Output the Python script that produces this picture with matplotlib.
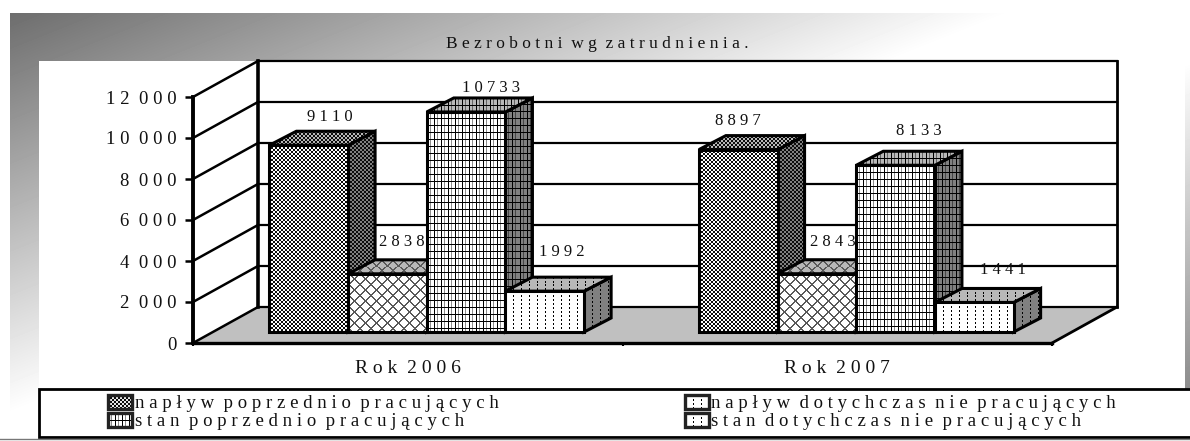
#Unemployed by previous employment - fake 3D bars
import matplotlib
matplotlib.use('Agg')
import matplotlib.pyplot as plt
from matplotlib.patches import Polygon, Rectangle
import numpy as np

plt.rcParams['font.family'] = ['Liberation Serif', 'DejaVu Sans']

#Data
title = 'Bezrobotni wg zatrudnienia.'
years = ['Rok 2006', 'Rok 2007']
naplyw_poprz = [9110, 8897]
naplyw_dotych = [2838, 2843]
stan_poprz = [10733, 8133]
stan_dotych = [1992, 1441]
series_names = ['napływ poprzednio pracujących', 'napływ dotychczas nie pracujących',
                'stan poprzednio pracujących', 'stan dotychczas nie pracujących']
value_labels = [['9110', '8897'], ['2838', '2843'], ['10733', '8133'], ['1992', '1441']]
y_ticks = [0, 2000, 4000, 6000, 8000, 10000, 12000]
y_tick_labels = ['0', '2 000', '4 000', '6 000', '8 000', '10 000', '12 000']

#Layout in pixels
W, H = 1190, 441
AX_L, AX_R, AX_T, AX_B = 193, 1052, 97, 343
WALL_DX, WALL_DY = 65, 36
BAR_DX, BAR_DY = 27, 14
BASE_DX, BASE_DY = 19, 11
BAR_W = 0.1832
#label offset from the bar centre and bar top (pixels)
label_dx = [[21, 0], [14, 16], [25, 23], [17, 29]]
label_dy = [[28, 29], [32, 32], [24, 34], [39, 32]]


def spaced(s):
    #letters are spread apart in the picture
    return '  '.join(' '.join(w) for w in s.split(' '))


def pattern(kind, w, h, base):
    yy, xx = np.indices((h, w))
    img = np.full((h, w), base, dtype=float)
    if kind == 'check':
        img[(xx // 2 + yy // 2) % 2 == 0] = 0.05
    elif kind == 'lattice':
        img[(xx + yy) % 11 < 2] = 0.35
        img[(xx - yy) % 11 < 2] = 0.35
    elif kind == 'grid':
        img[xx % 7 == 3] = base * 0.55
        img[xx % 7 == 0] = 0
        img[yy % 7 == 0] = 0
    elif kind == 'dots':
        img[(xx % 8 == 0) & (yy % 4 < 2)] = 0
    return img


fig = plt.figure(figsize=(W / 100, H / 100), dpi=100, facecolor='white')

#Background gradient, white panels, legend box
bg = fig.add_axes([0, 0, 1, 1])
bg.set_xlim(0, W)
bg.set_ylim(H, 0)
bg.axis('off')
gy, gx = np.mgrid[13:430, 10:W]
u = (gx - 10) / 1000 + (gy - 13) / 400
shade = np.where(u < 1, 0.43 + 0.57 * u, 1 - np.clip(u - 1.3, 0, None) * 0.55)
bg.imshow(shade, extent=(10, W, 430, 13), cmap='gray', vmin=0, vmax=1, aspect='auto', interpolation='bilinear')
bg.add_patch(Rectangle((39, 61), 1146, 330, fc='white', ec='none'))
bg.add_patch(Rectangle((39, 389), W, 48, fc='white', ec='black', lw=2))
bg.plot([0, W], [439, 439], color='#777777', lw=1)
bg.text(597, 44, spaced(title), fontsize=12.5, ha='center', va='center', color='#111111')
bg.set_xlim(0, W)
bg.set_ylim(H, 0)

#Chart axes
ax = fig.add_axes([AX_L / W, 1 - AX_B / H, (AX_R - AX_L) / W, (AX_B - AX_T) / H])
ax.patch.set_alpha(0)
ax.set_xlim(0, 2)
ax.set_ylim(0, 12000)
PX_X = (AX_R - AX_L) / 2
PX_Y = (AX_B - AX_T) / 12000


def pt(x, v, dx=0, dy=0):
    #data point moved dx pixels right and dy pixels up
    return (x + dx / PX_X, v + dy / PX_Y)


def face(verts, kind, base, z):
    poly = Polygon(verts, closed=True, fc='none', ec='black', lw=2.2, joinstyle='miter', zorder=z + 0.5, clip_on=False)
    xs = [p[0] for p in verts]
    ys = [p[1] for p in verts]
    w = int(np.ceil((max(xs) - min(xs)) * PX_X))
    h = int(np.ceil((max(ys) - min(ys)) * PX_Y))
    im = ax.imshow(pattern(kind, w, h, base), extent=(min(xs), max(xs), min(ys), max(ys)), cmap='gray',
                   vmin=0, vmax=1, aspect='auto', interpolation='nearest', zorder=z, clip_on=True)
    clip = Polygon(verts, closed=True, transform=ax.transData)
    im.set_clip_path(clip)
    ax.add_patch(poly)


#Floor, walls and gridlines
ax.add_patch(Polygon([pt(0, 0), pt(2, 0), pt(2, 0, WALL_DX, WALL_DY), pt(0, 0, WALL_DX, WALL_DY)],
                     fc='#c0c0c0', ec='none', zorder=1, clip_on=False))
for t in y_ticks:
    ax.plot(*zip(pt(0, t), pt(0, t, WALL_DX, WALL_DY)), color='black', lw=1.8, zorder=2, clip_on=False)
    ax.plot(*zip(pt(0, t, WALL_DX, WALL_DY), pt(2, t, WALL_DX, WALL_DY)), color='black', lw=1.6, zorder=2, clip_on=False)
ax.plot(*zip(pt(0, 0, WALL_DX, WALL_DY), pt(0, 12000, WALL_DX, WALL_DY)), color='black', lw=2.6, zorder=2, clip_on=False)
ax.plot(*zip(pt(2, 0, WALL_DX, WALL_DY), pt(2, 12000, WALL_DX, WALL_DY)), color='black', lw=2, zorder=2, clip_on=False)
ax.plot(*zip(pt(2, 0), pt(2, 0, WALL_DX, WALL_DY)), color='black', lw=2, zorder=2, clip_on=False)

#Bars, left to right so that each one hides the side of the one before
series = [naplyw_poprz, naplyw_dotych, stan_poprz, stan_dotych]
kinds = ['check', 'lattice', 'grid', 'dots']
z = 3
for g in range(2):
    left = g + 0.5 - 2 * BAR_W
    for i, vals in enumerate(series):
        x0 = left + i * BAR_W
        x1 = x0 + BAR_W
        v = vals[g]
        a = pt(x0, 0, BASE_DX, BASE_DY)
        b = pt(x1, 0, BASE_DX, BASE_DY)
        c = pt(x1, v, BASE_DX, BASE_DY)
        d = pt(x0, v, BASE_DX, BASE_DY)
        back = lambda p: (p[0] + BAR_DX / PX_X, p[1] + BAR_DY / PX_Y)
        face([b, back(b), back(c), c], kinds[i], 0.5, z)
        face([d, c, back(c), back(d)], kinds[i], 0.72, z + 1)
        face([a, b, c, d], kinds[i], 1.0, z + 2)
        z += 3
        lx, ly = pt((x0 + x1) / 2, v, BASE_DX + label_dx[i][g], BASE_DY + label_dy[i][g])
        ax.text(lx, ly, ' '.join(value_labels[i][g]), fontsize=12, ha='center', va='center',
                color='#111111', zorder=50, clip_on=False)

#Axes look
for s in ['top', 'right']:
    ax.spines[s].set_visible(False)
ax.spines['left'].set_linewidth(2.8)
ax.spines['bottom'].set_linewidth(2.4)
ax.spines['left'].set_zorder(40)
ax.spines['bottom'].set_zorder(40)
ax.set_yticks(y_ticks)
ax.set_yticklabels([spaced(t) for t in y_tick_labels], fontsize=13.5, color='#111111')
ax.set_xticks([0, 1, 2])
ax.set_xticklabels([])
ax.set_xticks([0.5, 1.5], minor=True)
ax.set_xticklabels([spaced(y) for y in years], minor=True, fontsize=14, color='#111111')
ax.tick_params(axis='y', length=6, width=1.8, pad=6)
ax.tick_params(axis='x', which='major', length=2, width=1.5)
ax.tick_params(axis='x', which='minor', length=0, pad=12)

#Legend
leg_x = [108, 685]
leg_y = [395, 413]
text_x = [135, 711]
order = [(0, 0, 0, 'check'), (0, 1, 1, 'dots'), (1, 0, 2, 'grid'), (1, 1, 3, 'dots')]
for row, col, idx, kind in order:
    sw = 24
    sh = 14
    bg.imshow(pattern(kind, sw, sh, 0.9 if kind == 'check' else 1.0),
              extent=(leg_x[col], leg_x[col] + sw, leg_y[row] + sh, leg_y[row]), cmap='gray', vmin=0, vmax=1,
              aspect='auto', interpolation='nearest', zorder=3)
    bg.add_patch(Rectangle((leg_x[col], leg_y[row]), sw, sh, fc='none', ec='#222222', lw=2.4, zorder=4))
    bg.text(text_x[col], leg_y[row] + 8, spaced(series_names[idx]), fontsize=13.5, ha='left', va='center',
            color='#111111', zorder=5)
bg.set_xlim(0, W)
bg.set_ylim(H, 0)

plt.savefig('out.png', dpi=100)
